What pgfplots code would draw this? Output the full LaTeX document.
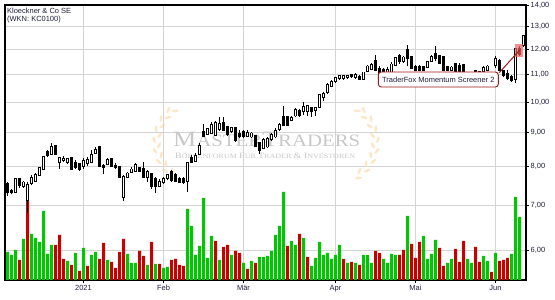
\documentclass[border=0pt]{standalone}
\usepackage{pgfplots}
\pgfplotsset{compat=1.18}
\usepackage{pgfplotstable}
\usepackage{fontspec}
\usepackage{graphicx}
\usetikzlibrary{shapes.geometric}
\setmainfont{Liberation Sans}
\setsansfont{Liberation Sans}
\newfontfamily\wmfont{Liberation Serif}
\definecolor{gridgray}{RGB}{212,212,212}
\definecolor{lbl}{RGB}{30,30,60}
\definecolor{volgreen}{RGB}{0,200,0}
\definecolor{volred}{RGB}{200,0,0}
\definecolor{annred}{RGB}{160,20,20}
\definecolor{boxred}{RGB}{240,100,100}
\definecolor{wmgray}{RGB}{200,200,200}
\definecolor{wmorange}{RGB}{250,215,165}

% daily OHLC (EUR)
\pgfplotstableread{
x o h l c
0 7.53 7.60 7.24 7.34
1 7.36 7.42 7.27 7.33
2 7.34 7.70 7.33 7.67
3 7.67 7.71 7.43 7.51
4 7.49 7.62 7.43 7.58
5 7.13 7.59 6.82 7.51
6 7.56 7.79 7.51 7.70
7 7.62 7.82 7.60 7.78
8 7.78 8.00 7.76 7.97
9 7.94 8.31 7.91 8.27
10 8.43 8.48 8.27 8.32
11 8.36 8.68 8.34 8.58
12 8.61 8.63 8.34 8.36
13 8.12 8.29 7.95 8.24
14 8.20 8.31 8.14 8.22
15 8.14 8.25 8.07 8.21
16 8.24 8.25 7.93 7.95
17 8.10 8.19 7.94 7.98
18 8.07 8.10 7.89 7.95
19 8.02 8.24 7.95 8.17
20 8.10 8.29 8.02 8.19
21 8.13 8.48 8.10 8.34
22 8.38 8.58 8.36 8.48
23 8.58 8.60 8.02 8.03
24 8.03 8.07 7.80 7.98
25 8.07 8.24 8.05 8.19
26 8.22 8.24 8.00 8.03
27 8.03 8.10 7.95 7.99
28 8.00 8.02 7.69 7.73
29 7.21 7.78 7.11 7.73
30 7.73 7.85 7.70 7.82
31 7.85 8.00 7.82 7.93
32 7.88 8.10 7.86 8.04
33 7.96 8.00 7.86 7.89
34 7.94 8.14 7.70 7.72
35 7.73 7.91 7.60 7.87
36 7.80 7.83 7.42 7.48
37 7.68 7.73 7.30 7.48
38 7.48 7.68 7.45 7.60
39 7.58 7.73 7.54 7.68
40 7.69 7.80 7.64 7.78
41 7.86 7.91 7.60 7.64
42 7.78 7.82 7.60 7.62
43 7.68 7.73 7.56 7.60
44 7.68 7.73 7.54 7.60
45 7.62 8.14 7.34 8.10
46 8.24 8.34 8.12 8.14
47 8.17 8.38 8.14 8.31
48 8.36 8.68 8.34 8.60
49 9.03 9.28 8.87 8.89
50 8.96 9.14 8.93 9.11
51 8.98 9.33 8.96 9.25
52 8.93 9.36 8.91 9.31
53 9.12 9.49 9.07 9.28
54 9.32 9.49 9.07 9.09
55 9.19 9.21 8.90 8.96
56 9.04 9.19 8.99 9.14
57 9.14 9.17 8.73 8.78
58 8.98 9.09 8.83 8.88
59 9.03 9.09 8.83 8.89
60 8.89 9.09 8.87 9.00
61 8.88 9.03 8.84 8.98
62 8.90 8.93 8.56 8.58
63 8.68 8.73 8.37 8.48
64 8.53 8.83 8.50 8.78
65 8.58 8.88 8.55 8.80
66 8.80 8.98 8.75 8.93
67 8.88 9.14 8.83 9.07
68 9.12 9.30 9.07 9.25
69 9.52 9.88 9.20 9.25
70 9.50 9.53 9.22 9.25
71 9.39 9.55 9.36 9.48
72 9.55 9.80 9.50 9.74
73 9.72 9.76 9.52 9.57
74 9.69 10.02 9.57 9.85
75 9.69 9.91 9.54 9.88
76 9.80 9.85 9.52 9.69
77 9.72 9.85 9.54 9.80
78 9.85 10.29 9.80 10.26
79 10.17 10.37 10.03 10.29
80 10.37 10.70 10.29 10.62
81 10.58 10.81 10.53 10.74
82 10.75 10.91 10.69 10.87
83 10.88 10.99 10.81 10.96
84 10.88 10.99 10.81 10.94
85 10.92 10.99 10.84 10.96
86 10.98 11.03 10.88 10.93
87 10.92 11.05 10.84 10.99
88 10.93 10.99 10.81 10.85
89 10.84 11.12 10.81 11.09
90 11.13 11.38 11.09 11.32
91 11.22 11.45 11.17 11.38
92 11.55 11.78 11.13 11.17
93 11.22 11.32 10.99 11.06
94 11.19 11.25 11.00 11.12
95 11.10 11.28 11.02 11.20
96 11.12 11.50 11.06 11.40
97 11.38 11.71 11.32 11.64
98 11.75 11.80 11.42 11.52
99 11.52 11.75 11.45 11.68
100 11.99 12.17 11.32 11.66
101 11.71 11.75 11.22 11.25
102 11.32 11.38 11.15 11.19
103 11.32 11.38 11.13 11.19
104 11.30 11.35 11.13 11.19
105 11.30 11.53 11.27 11.51
106 11.54 11.78 11.53 11.71
107 11.81 12.13 11.53 11.65
108 11.75 11.78 11.42 11.45
109 11.71 11.75 11.15 11.19
110 11.32 11.35 11.13 11.19
111 11.19 11.35 11.13 11.28
112 11.41 11.45 11.10 11.12
113 11.35 11.45 11.07 11.12
114 11.38 11.42 10.98 11.05
115 10.90 11.06 10.85 11.02
116 11.02 11.06 10.88 10.92
117 11.16 11.20 11.02 11.10
118 11.12 11.15 11.00 11.08
119 11.13 11.32 11.07 11.25
120 11.19 11.38 11.13 11.32
121 11.05 11.08 10.90 10.98
122 11.36 11.75 11.27 11.63
123 11.54 11.62 11.13 11.19
124 11.15 11.20 10.90 10.98
125 11.05 11.19 10.81 10.88
126 10.93 11.00 10.72 10.78
127 10.85 12.08 10.68 12.02
128 12.02 12.13 11.72 11.83
129 12.17 12.63 12.10 12.58
}\ohlc

% volume (relative units), g = rising day, r = falling day
\pgfplotstableread{
x g r
0 28 0
1 25 0
2 30 0
3 0 20
4 41 0
5 0 79
6 46 0
7 42 0
8 38 0
9 69 0
10 26 0
11 35 0
12 0 35
13 0 45
14 0 21
15 19 0
16 0 15
17 27 0
18 0 9
19 32 0
20 0 14
21 25 0
22 28 0
23 0 21
24 0 37
25 20 0
26 0 18
27 0 12
28 0 28
29 0 41
30 26 0
31 17 0
32 17 0
33 0 29
34 0 24
35 15 0
36 0 38
37 16 0
38 0 16
39 12 0
40 13 0
41 0 20
42 0 21
43 0 15
44 0 14
45 71 0
46 54 0
47 25 0
48 34 0
49 82 0
50 22 0
51 44 0
52 0 39
53 20 0
54 0 33
55 0 35
56 25 0
57 0 29
58 0 27
59 17 0
60 0 11
61 19 0
62 0 17
63 23 0
64 23 0
65 24 0
66 29 0
67 45 0
68 54 0
69 88 0
70 0 34
71 39 0
72 35 0
73 0 46
74 42 0
75 0 23
76 14 0
77 22 0
78 38 0
79 25 0
80 27 0
81 21 0
82 25 0
83 35 0
84 0 21
85 17 0
86 0 18
87 17 0
88 0 15
89 25 0
90 25 0
91 17 0
92 0 29
93 0 27
94 21 0
95 17 0
96 26 0
97 25 0
98 0 25
99 0 30
100 64 0
101 0 36
102 0 22
103 0 38
104 44 0
105 21 0
106 26 0
107 40 0
108 0 32
109 0 14
110 17 0
111 21 0
112 0 31
113 0 18
114 0 39
115 21 0
116 17 0
117 0 33
118 0 18
119 24 0
120 19 0
121 0 8
122 27 0
123 0 19
124 0 20
125 0 22
126 26 0
127 83 0
128 63 0
}\vol

\pgfplotsset{
  chartbox/.style={
    at={(5bp,20bp)}, anchor=south west, scale only axis,
    width=521bp, height=275bp,
    xmin=-0.625, xmax=129.625,
  },
}
\tikzset{leaf/.style={ellipse, fill=wmorange, draw=none, inner sep=0,
  minimum width=7bp, minimum height=2.8bp}}

\newcommand\wmsz[2]{{\fontsize{#1}{#1}\selectfont #2}}

\begin{document}
\begin{tikzpicture}
\path[use as bounding box] (0bp,0bp) rectangle (555bp,300bp);

% ---------- frame, grid, ticks
\begin{axis}[chartbox,
  ymin=1.687879, ymax=2.639057,
  axis line style={black, line width=1.1bp},
  xtick={19,39,59,82,102,122},
  xticklabels={2021,Feb,Mär,Apr,Mai,Jun},
  ytick={1.791759,1.945910,2.079442,2.197225,2.302585,2.397895,2.484907,2.564949,2.639057},
  yticklabels={{6,00},{7,00},{8,00},{9,00},{10,00},{11,00},{12,00},{13,00},{14,00}},
  xtick pos=left, ytick pos=right,
  tick align=outside, major tick length=3bp,
  tick style={black, line width=0.8bp},
  grid=major, grid style={gridgray, line width=0.8bp},
  ticklabel style={font=\fontsize{7.5}{8}\selectfont, text=lbl},
  yticklabel style={anchor=west, inner sep=1.5bp},
  xticklabel style={anchor=north, inner sep=2bp},
]
\addplot[draw=none, forget plot] coordinates {(0,2)};
\end{axis}

% ---------- watermark
\begin{scope}[opacity=0.6]
\foreach \a in {125,140,...,235} {
  \node[leaf, rotate={\a-90-30}] at ({197bp+38bp*cos(\a)},{158bp+38bp*sin(\a)}) {};
  \node[leaf, rotate={\a-90+30}] at ({197bp+43bp*cos(\a+7)},{158bp+43bp*sin(\a+7)}) {};
  \node[leaf, rotate={270-\a+30}] at ({335bp-38bp*cos(\a)},{158bp+38bp*sin(\a)}) {};
  \node[leaf, rotate={270-\a-30}] at ({335bp-43bp*cos(\a+7)},{158bp+43bp*sin(\a+7)}) {};
}
\end{scope}
\node[anchor=base west, inner sep=0, text=wmgray] at (173bp,153bp)
  {\resizebox{187bp}{\height}{\wmfont\wmsz{22}{M}\wmsz{17.5}{ASTER}\wmsz{22}{T}\wmsz{17.5}{RADERS}}};
\node[anchor=base west, inner sep=0, text=wmgray] at (175bp,141.5bp)
  {\resizebox{180bp}{\height}{\wmfont\wmsz{8.2}{B}\wmsz{6.6}{ÖRSENFORUM }\wmsz{8.2}{F}\wmsz{6.6}{ÜR }\wmsz{8.2}{T}\wmsz{6.6}{RADER }\wmsz{8.2}{\& I}\wmsz{6.6}{NVESTOREN}}};

% ---------- volume
\begin{axis}[chartbox, ymin=0, ymax=275, hide axis]
\addplot[ybar, bar width=3bp, bar shift=0pt, fill=volgreen, draw=none] table[x=x, y=g] {\vol};
\addplot[ybar, bar width=3bp, bar shift=0pt, fill=volred, draw=none] table[x=x, y=r] {\vol};
\end{axis}

% ---------- candles (price axis logarithmic: plotted as ln of the price)
\begin{axis}[chartbox, ymin=1.687879, ymax=2.639057, hide axis]
\addplot[draw=none, mark=none, forget plot,
  error bars/.cd, y dir=plus, y explicit, error mark=none,
  error bar style={draw=black, line width=1bp}]
  table[x=x, y expr={ln(\thisrow{l})}, y error plus expr={ln(\thisrow{h})-ln(\thisrow{l})}] {\ohlc};
\addplot[draw=none, mark=none, forget plot,
  error bars/.cd, y dir=plus, y explicit, error mark=none,
  error bar style={draw=black, line width=3.4bp, line cap=butt}]
  table[x=x, y expr={ln(min(\thisrow{o},\thisrow{c}))-0.003},
        y error plus expr={abs(ln(\thisrow{c})-ln(\thisrow{o}))+0.006}] {\ohlc};
\addplot[draw=none, mark=none, forget plot,
  error bars/.cd, y dir=plus, y explicit, error mark=none,
  error bar style={draw=white, line width=1.6bp, line cap=butt}]
  table[x=x, y expr={ln(\thisrow{o})},
        y error plus expr={max(0,ln(\thisrow{c})-ln(\thisrow{o}))}] {\ohlc};
% annotation
\fill[boxred, opacity=0.7] (axis cs:126.9,2.457877) rectangle (axis cs:128.95,2.50471);
\draw[annred, line width=1bp] (axis cs:122.95,2.405141) -- (axis cs:127.95,2.481568);
\node[draw=annred, fill=white, line width=0.9bp, rounded corners=3bp,
  minimum width=120bp, minimum height=15bp, inner sep=0,
  font=\fontsize{7.5}{8}\selectfont, text=lbl]
  at (axis cs:107.7,2.381396) {TraderFox Momentum Screener 2};
\end{axis}

% ---------- title
\node[anchor=north west, inner sep=0, align=left,
  font=\fontsize{7.5}{8.3}\selectfont, text=lbl] at (7bp,292bp)
  {Kloeckner \& Co SE\\(WKN: KC0100)};
\end{tikzpicture}
\end{document}
